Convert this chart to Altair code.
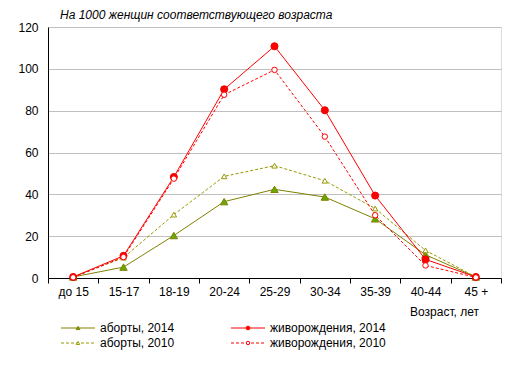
import altair as alt
import pandas as pd

ages = ["до 15", "15-17", "18-19", "20-24", "25-29", "30-34", "35-39", "40-44", "45 +"]
abort_2014 = [0.5, 5.2, 20.3, 36.5, 42.4, 38.7, 28.3, 11.1, 0.5]
abort_2010 = [0.5, 9.7, 30.3, 48.6, 53.7, 46.5, 33.2, 13.2, 0.5]
birth_2014 = [0.5, 10.6, 48.3, 90.2, 110.8, 80.2, 39.4, 8.9, 0.5]
birth_2010 = [0.3, 10.0, 47.5, 87.6, 99.5, 67.6, 30.0, 6.0, 0.3]

series = [
    ("аборты, 2014", abort_2014, "#808000", "#66aa00", "#808000", "triangle-up", 55, None),
    ("аборты, 2010", abort_2010, "#999900", "white", "#999900", "triangle-up", 30, [3, 2]),
    ("живорождения, 2014", birth_2014, "#ff0000", "#ff0000", "#ee0000", "circle", 50, None),
    ("живорождения, 2010", birth_2010, "#ff0000", "white", "#ff0000", "circle", 30, [3, 2]),
]

FONT = "Liberation Sans"
W, H = 453, 251

x_enc = alt.X(
    "age:N",
    sort=ages,
    bandPosition=0.5,
    scale=alt.Scale(type="band", paddingInner=0, paddingOuter=0, domain=ages),
    axis=alt.Axis(
        title=None, tickBand="extent", tickSize=5, tickColor="black",
        domainColor="black", labelAngle=0, labelPadding=3, grid=False,
        labelFontSize=12, labelFont=FONT, labelColor="black",
    ),
)
y_enc = alt.Y(
    "value:Q",
    scale=alt.Scale(domain=[0, 120], nice=False),
    axis=alt.Axis(
        title=None, values=list(range(0, 121, 20)), ticks=False, labelPadding=10,
        domainColor="black", gridColor="#c0c0c0", labelFontSize=12, labelFont=FONT,
        labelColor="black",
    ),
)

layers = []
legend_pos = [(13, 301), (13, 316), (183, 301), (183, 316)]
for (name, vals, lc, fill, mstroke, shape, size, dash), (lx, ly) in zip(series, legend_pos):
    df = pd.DataFrame({"age": ages, "value": vals})
    line_kw = dict(color=lc, strokeWidth=1)
    if dash:
        line_kw["strokeDash"] = dash
    layers.append(alt.Chart(df).mark_line(**line_kw).encode(x=x_enc, y=y_enc))
    layers.append(
        alt.Chart(df)
        .mark_point(shape=shape, filled=True, fill=fill, stroke=mstroke, strokeWidth=1,
                    size=size, opacity=1)
        .encode(x=x_enc, y=y_enc)
    )
    one = alt.Data(values=[{"label": name}])
    rule_kw = dict(color=lc, strokeWidth=1)
    if dash:
        rule_kw["strokeDash"] = dash
    layers.append(alt.Chart(one).mark_rule(**rule_kw).encode(
        x=alt.value(lx), x2=alt.value(lx + 34), y=alt.value(ly)))
    layers.append(alt.Chart(one).mark_point(
        shape=shape, filled=True, fill=fill, stroke=mstroke, strokeWidth=1,
        size=14 if fill != "white" else 12, opacity=1).encode(
        x=alt.value(lx + 17), y=alt.value(ly)))
    layers.append(alt.Chart(one).mark_text(
        align="left", baseline="middle", font=FONT, fontSize=12, color="black").encode(
        x=alt.value(lx + 39), y=alt.value(ly), text="label:N"))

title = alt.Chart(alt.Data(values=[{"t": "На 1000 женщин соответствующего возраста"}])).mark_text(
    align="left", baseline="middle", font=FONT, fontSize=12, fontStyle="italic", color="black"
).encode(x=alt.value(12), y=alt.value(-12), text="t:N")

xtitle = alt.Chart(alt.Data(values=[{"t": "Возраст, лет"}])).mark_text(
    align="left", baseline="middle", font=FONT, fontSize=12, color="black"
).encode(x=alt.value(362), y=alt.value(285), text="t:N")

chart = alt.layer(*layers, title, xtitle).properties(
    width=W, height=H,
    autosize=alt.AutoSizeParams(type="none"),
    padding={"left": 40, "top": 19, "right": 6, "bottom": 80},
).configure_view(stroke="#a0a0a0", strokeWidth=1).configure(background="white")

chart.save("out.html", embed_options={"renderer": "svg", "actions": False})
